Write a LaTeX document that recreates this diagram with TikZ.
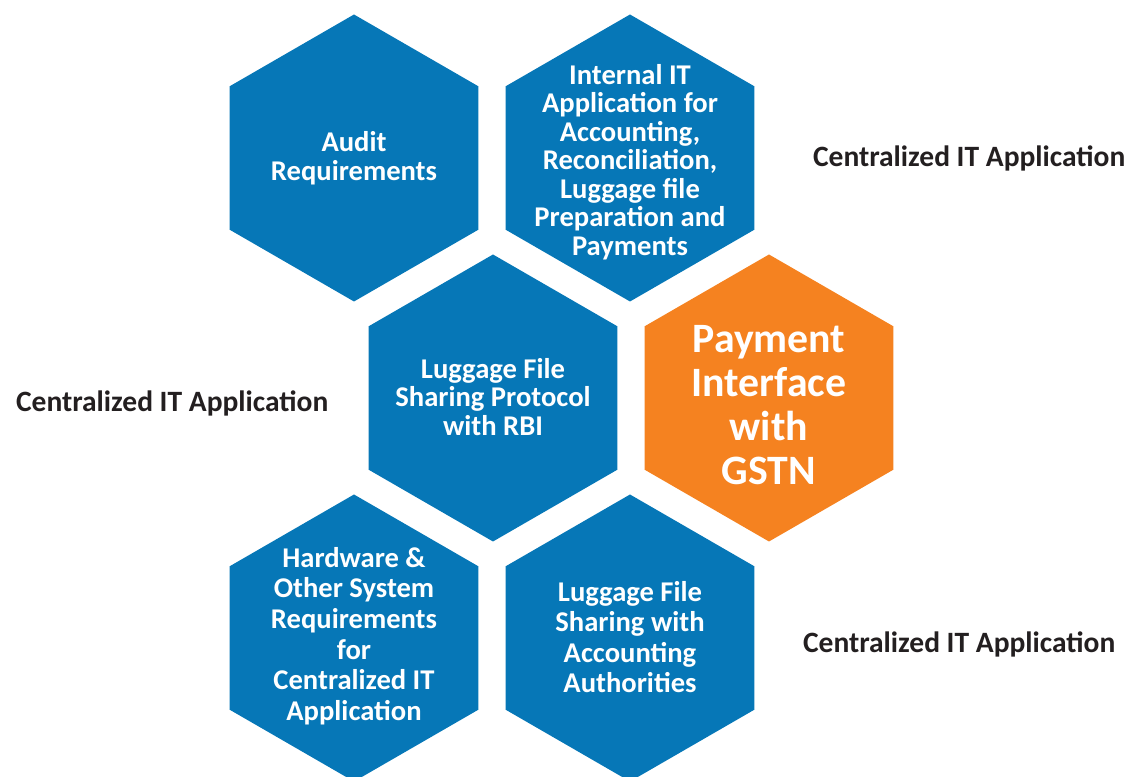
\documentclass[tikz,border=0pt]{standalone}
\usepackage{fontspec}
\setmainfont{Carlito}
\definecolor{hexblue}{RGB}{6,119,183}
\definecolor{hexorange}{RGB}{245,130,32}
\definecolor{labelgray}{RGB}{35,31,32}
\tikzset{
 hextext/.style={text=white,align=center,font=\bfseries\fontsize{14.3}{14.25}\selectfont},
 loosetext/.style={hextext,font=\bfseries\fontsize{14.3}{15.3}\selectfont},
 bigtext/.style={hextext,font=\bfseries\fontsize{20.9}{22}\selectfont},
 sidetext/.style={text=labelgray,anchor=west,font=\bfseries\fontsize{14.75}{17}\selectfont}
}
\begin{document}
\begin{tikzpicture}[x=0.5pt,y=0.5pt]
 \useasboundingbox (0,0) rectangle (1131,777);
 \foreach \x/\y/\c in {354/619/hexblue,630/619/hexblue,493/379/hexblue,
  769/379/hexorange,354/139/hexblue,630/139/hexblue}
  \fill [\c] (\x,\y) +(90:143.5) -- +(150:143.5) -- +(210:143.5) --
   +(270:143.5) -- +(330:143.5) -- +(30:143.5) -- cycle;
 \node [hextext] (audit) at (354,619) {Audit\\Requirements};
 \node [hextext] (internal) at (630,615) {Internal IT\\Application for\\Accounting,\\Reconciliation,\\Luggage file\\Preparation and\\Payments};
 \node [hextext] (protocol) at (493,380) {Luggage File\\Sharing Protocol\\with RBI};
 \node [bigtext] (payment) at (769,372) {Payment\\Interface\\with\\GSTN};
 \node [loosetext] (hardware) at (354,141) {Hardware \&\\Other System\\Requirements\\for\\Centralized IT\\Application};
 \node [loosetext] (sharing) at (630,140) {Luggage File\\Sharing with\\Accounting\\Authorities};
 \node [sidetext] (topapp) at (806,619) {Centralized IT Application};
 \node [sidetext] (leftapp) at (9,374) {Centralized IT Application};
 \node [sidetext] (bottomapp) at (796,133) {Centralized IT Application};
\end{tikzpicture}
\end{document}
